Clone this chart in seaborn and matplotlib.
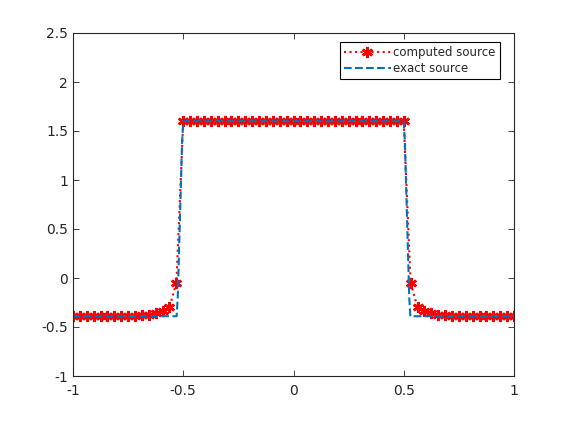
import numpy as np
import pandas as pd
import matplotlib
matplotlib.use("Agg")
import matplotlib.pyplot as plt
import seaborn as sns

# grid of the computed source (step 1/32 on [-1, 1])
x_computed = [-1.0 + i / 32 for i in range(65)]
y_computed = [
    -0.39, -0.39, -0.39, -0.39, -0.39, -0.39, -0.39, -0.39, -0.39, -0.385,
    -0.38, -0.375, -0.36, -0.34, -0.30, -0.05,
    1.6, 1.6, 1.6, 1.6, 1.6, 1.6, 1.6, 1.6, 1.6, 1.6, 1.6, 1.6, 1.6, 1.6, 1.6, 1.6,
    1.6, 1.6, 1.6, 1.6, 1.6, 1.6, 1.6, 1.6, 1.6, 1.6, 1.6, 1.6, 1.6, 1.6, 1.6, 1.6,
    1.6,
    -0.05, -0.30, -0.34, -0.36, -0.375, -0.38,
    -0.385, -0.39, -0.39, -0.39, -0.39, -0.39, -0.39, -0.39, -0.39, -0.39,
]

x_exact = [-1.0, -0.53, -0.525, -0.515, -0.505, -0.5, 0.5, 0.505, 0.515, 0.525, 0.53, 1.0]
y_exact = [-0.39, -0.39, -0.2, 0.6, 1.4, 1.6, 1.6, 1.4, 0.6, -0.2, -0.39, -0.39]

xticks = [-1, -0.5, 0, 0.5, 1]
yticks = [-1, -0.5, 0, 0.5, 1, 1.5, 2, 2.5]

df_c = pd.DataFrame({"x": x_computed, "y": y_computed})
df_e = pd.DataFrame({"x": x_exact, "y": y_exact})

sns.set_style("white")
plt.rcParams["font.family"] = ["DejaVu Sans"]

fig = plt.figure(figsize=(5.68, 4.24), dpi=100)
ax = fig.add_axes([73 / 568, 1 - 376 / 424, (514 - 73) / 568, (376 - 33) / 424])

# asterisk marker like MATLAB's '*'
sns.lineplot(data=df_c, x="x", y="y", ax=ax, color="red", linestyle=":",
             linewidth=1.5, marker=(6, 2, 0), markersize=8, markeredgecolor="red",
             markeredgewidth=1.8, label="computed source", sort=False)
sns.lineplot(data=df_e, x="x", y="y", ax=ax, color=(0, 0.447, 0.741),
             linestyle="--", linewidth=1.5, dashes=(5, 3.5),
             label="exact source", sort=False)

ax.set_xlim(-1, 1)
ax.set_ylim(-1, 2.5)
ax.set_xticks(xticks)
ax.set_xticklabels([f"{t:g}" for t in xticks])
ax.set_yticks(yticks)
ax.set_yticklabels([f"{t:g}" for t in yticks])
ax.set_xlabel("")
ax.set_ylabel("")

grey = (0.15, 0.15, 0.15)
for s in ax.spines.values():
    s.set_visible(True)
    s.set_color(grey)
    s.set_linewidth(0.8)
ax.tick_params(direction="in", length=4, width=0.6, colors=grey,
               labelsize=10, top=True, right=True, bottom=True, left=True,
               labeltop=False, labelright=False)
ax.tick_params(axis="x", pad=6)

leg = ax.legend(loc="upper right", fontsize=8.5, frameon=True, fancybox=False,
                framealpha=1, edgecolor="black", borderpad=0.35,
                handlelength=4.0, handletextpad=0.2, labelspacing=0.25,
                borderaxespad=0, bbox_to_anchor=(0.968, 0.974))
leg.get_frame().set_linewidth(0.8)

fig.savefig("out.png", dpi=100)
